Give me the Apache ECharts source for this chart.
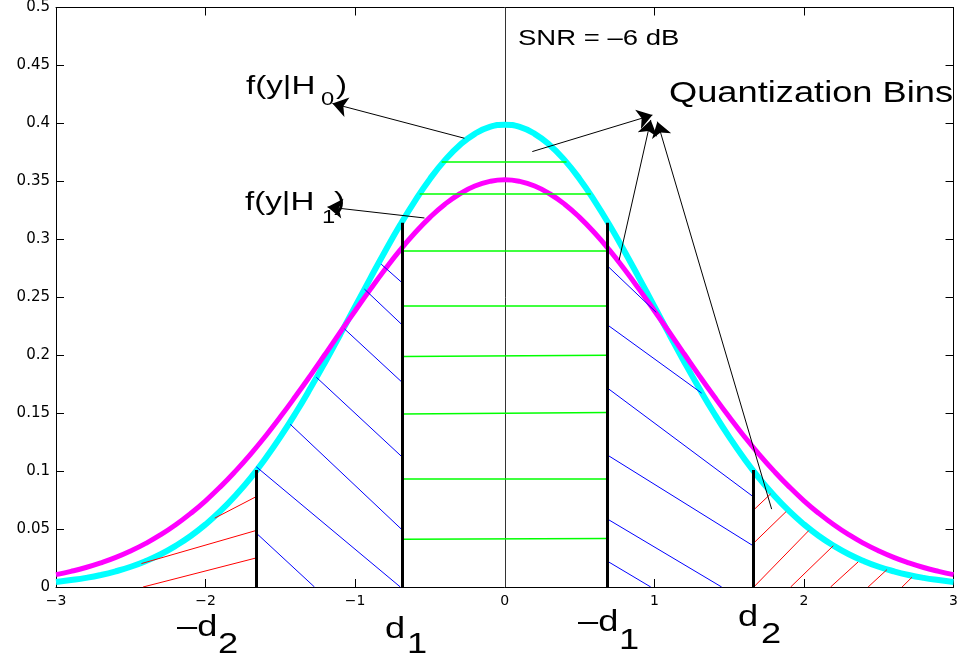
<!DOCTYPE html>
<html>
<head>
<meta charset="utf-8">
<script src="https://cdn.jsdelivr.net/npm/echarts@6/dist/echarts.min.js"></script>
<style>
html, body { margin: 0; padding: 0; background: #fff; }
#chart { width: 961px; height: 664px; }
</style>
</head>
<body>
<div id="chart"></div>
<script>
// grid of y values, step 0.1 from -3 to 3
var xs = [-3.0,-2.9,-2.8,-2.7,-2.6,-2.5,-2.4,-2.3,-2.2,-2.1,-2.0,-1.9,-1.8,-1.7,-1.6,-1.5,-1.4,-1.3,-1.2,-1.1,-1.0,
	-0.9,-0.8,-0.7,-0.6,-0.5,-0.4,-0.3,-0.2,-0.1,0.0,0.1,0.2,0.3,0.4,0.5,0.6,0.7,0.8,0.9,1.0,
	1.1,1.2,1.3,1.4,1.5,1.6,1.7,1.8,1.9,2.0,2.1,2.2,2.3,2.4,2.5,2.6,2.7,2.8,2.9,3.0];
// f(y|H0), cyan
var h0 = [0.0044,0.0060,0.0079,0.0104,0.0136,0.0175,0.0224,0.0283,0.0355,0.0440,0.0540,0.0656,0.0790,0.0940,0.1109,
	0.1295,0.1497,0.1714,0.1942,0.2179,0.2420,0.2661,0.2897,0.3123,0.3332,0.3521,0.3683,0.3814,0.3910,0.3970,0.3989,
	0.3970,0.3910,0.3814,0.3683,0.3521,0.3332,0.3123,0.2897,0.2661,0.2420,0.2179,0.1942,0.1714,0.1497,0.1295,
	0.1109,0.0940,0.0790,0.0656,0.0540,0.0440,0.0355,0.0283,0.0224,0.0175,0.0136,0.0104,0.0079,0.0060,0.0044];
// f(y|H1), magenta
var h1 = [0.0107,0.0135,0.0168,0.0208,0.0255,0.0311,0.0376,0.0451,0.0537,0.0635,0.0744,0.0866,0.1000,0.1145,0.1301,
	0.1468,0.1643,0.1824,0.2010,0.2198,0.2384,0.2566,0.2741,0.2906,0.3056,0.3189,0.3303,0.3393,0.3460,0.3500,0.3514,
	0.3500,0.3460,0.3393,0.3303,0.3189,0.3056,0.2906,0.2741,0.2566,0.2384,0.2198,0.2010,0.1824,0.1643,0.1468,
	0.1301,0.1145,0.1000,0.0866,0.0744,0.0635,0.0537,0.0451,0.0376,0.0311,0.0255,0.0208,0.0168,0.0135,0.0107];

// segments [x1, y1, x2, y2]
var thresholds = [[-1.661,0,-1.661,0.1009],[-0.687,0,-0.687,0.3142],[0.687,0,0.687,0.3142],[1.660,0,1.660,0.1009]];
var zeroLine = [[0,0,0,0.5]];
var greenSegs = [
	[-0.422,0.3666,0.413,0.3666],
	[-0.569,0.3391,0.575,0.3391],
	[-0.687,0.2905,0.687,0.2905],
	[-0.687,0.2424,0.687,0.2424],
	[-0.687,0.1988,0.687,0.1999],
	[-0.687,0.1493,0.687,0.1505],
	[-0.687,0.0938,0.687,0.0938],
	[-0.687,0.0411,0.687,0.0419]
];
var blueSegs = [
	[-0.826,0.2785,-0.687,0.2626],
	[-0.938,0.2570,-0.687,0.2263],
	[-1.071,0.2226,-0.687,0.1767],
	[-1.260,0.1810,-0.687,0.1123],
	[-1.434,0.1404,-0.687,0.0494],
	[-1.661,0.1037,-0.698,0],
	[-1.661,0.0465,-1.272,0],
	[0.687,0.2770,1.013,0.2369],
	[0.687,0.2261,1.316,0.1673],
	[0.687,0.1716,1.660,0.0780],
	[0.687,0.1138,1.660,0.0356],
	[0.687,0.0586,1.450,0],
	[0.687,0.0222,0.976,0]
];
var redSegs = [
	[-1.939,0.0594,-1.661,0.0780],
	[-2.429,0.0202,-1.661,0.0488],
	[-2.418,0,-1.661,0.0251],
	[1.660,0.0660,1.777,0.0803],
	[1.660,0.0374,1.881,0.0651],
	[1.665,0,2.033,0.0488],
	[1.911,0,2.196,0.0356],
	[2.178,0,2.362,0.0216],
	[2.429,0,2.555,0.0150],
	[2.656,0,2.722,0.0084]
];
// annotation arrows, tail -> head
var arrows = [
	[-0.270,0.3872,-1.152,0.4172],
	[-0.537,0.3184,-1.185,0.3279],
	[0.184,0.3757,0.987,0.4072],
	[0.764,0.2819,0.976,0.4030],
	[1.784,0.0672,1.020,0.4015]
];

function toLines(segs){
	var out = [];
	for(var i = 0;i < segs.length;i++){
		var s = segs[i];
		out.push({coords: [[s[0],s[1]],[s[2],s[3]]]});
	}
	return out;
}
function pairs(x, y){
	var out = [];
	for(var i = 0;i < x.length;i++){ out.push([x[i], y[i]]); }
	return out;
}
function segSeries(segs, color, width, z, extra){
	var s = {
		type: 'lines',
		coordinateSystem: 'cartesian2d',
		silent: true,
		z: z,
		lineStyle: {color: color, width: width, opacity: 1, curveness: 0},
		itemStyle: {color: color},
		data: toLines(segs)
	};
	if(extra){ for(var k in extra){ s[k] = extra[k]; } }
	return s;
}

var TF = '"Liberation Sans", Arial, sans-serif';
var SX = 1.25; // text in the reference is stretched horizontally
// [text, left x, middle y, font size]
var labels = [
	['SNR = \u20136 dB', 518, 39, 22],
	['Quantization Bins', 669, 94, 29],
	['f(y|H', 246, 87, 26.5], ['0', 321, 100, 19], [')', 336, 87, 26.5],
	['f(y|H', 245, 203, 26.5], ['1', 322, 218, 19], [')', 334, 203, 26.5],
	['\u2013d', 177, 628, 29], ['2', 218, 645, 29],
	['d', 385, 630, 29], ['1', 407, 645, 29],
	['\u2013d', 578, 623, 29], ['1', 619, 641, 29],
	['d', 738, 618, 29], ['2', 761, 635, 29]
];
var graphics = [];
for(var i = 0;i < labels.length;i++){
	var l = labels[i];
	graphics.push({
		type: 'text', x: l[1], y: l[2], scaleX: SX, z: 100, silent: true,
		style: {text: l[0], fill: '#000', font: l[3] + 'px ' + TF,
			textAlign: 'left', textVerticalAlign: 'middle', align: 'left', verticalAlign: 'middle'}
	});
}

var axisCommon = {
	type: 'value',
	axisLine: {show: true, onZero: false, lineStyle: {color: '#000', width: 1}},
	axisTick: {show: true, inside: true, length: 8, lineStyle: {color: '#000', width: 1}},
	splitLine: {show: false}
};
function ax(extra){
	var o = JSON.parse(JSON.stringify(axisCommon));
	for(var k in extra){ o[k] = extra[k]; }
	return o;
}

var chart = echarts.init(document.getElementById('chart'), null, {renderer: 'canvas'});
var option = {
	animation: false,
	backgroundColor: '#fff',
	grid: {left: 56, right: 6, top: 5, bottom: 77},
	xAxis: [
		ax({min: -3, max: 3, interval: 1, position: 'bottom',
			axisLabel: {color: '#000', fontSize: 14, fontFamily: 'DejaVu Sans', margin: 7,
				formatter: function(v){ return String(v).replace('-', '\u2212'); }}}),
		ax({min: -3, max: 3, interval: 1, position: 'top', axisLabel: {show: false}})
	],
	yAxis: [
		ax({min: 0, max: 0.5, interval: 0.05, position: 'left',
			axisLabel: {color: '#000', fontSize: 15, fontFamily: 'DejaVu Sans', margin: 6,
				formatter: function(v){ return String(+v.toFixed(2)); }}}),
		ax({min: 0, max: 0.5, interval: 0.05, position: 'right', axisLabel: {show: false}})
	],
	series: [
		segSeries(zeroLine, '#333', 1, 1),
		{type: 'line', name: 'f(y|H0)', data: pairs(xs, h0), showSymbol: false, smooth: true, z: 2,
			lineStyle: {color: '#00ffff', width: 6}, silent: true},
		{type: 'line', name: 'f(y|H1)', data: pairs(xs, h1), showSymbol: false, smooth: true, z: 2,
			lineStyle: {color: '#ff00ff', width: 5}, silent: true},
		segSeries(greenSegs, '#00ff00', 1.5, 3),
		segSeries(blueSegs, '#0000ff', 1, 3),
		segSeries(redSegs, '#ff0000', 1, 3),
		segSeries(thresholds, '#000', 3, 4),
		segSeries(arrows, '#000', 1, 5, {symbol: ['none', 'arrow'], symbolSize: 15})
	],
	graphic: {elements: graphics}
};
chart.setOption(option);
window.onresize = chart.resize;
</script>
</body>
</html>
